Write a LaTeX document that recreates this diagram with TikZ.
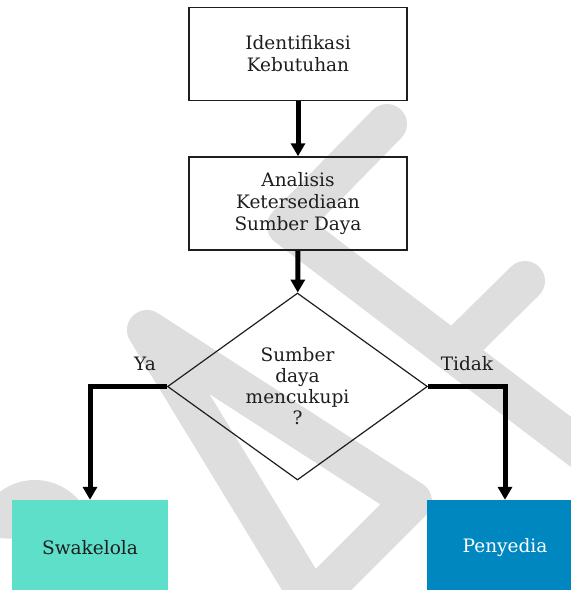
\documentclass[tikz,border=0pt]{standalone}
\usepackage{fontspec}
\setmainfont{DejaVu Serif}
\usetikzlibrary{shapes.geometric,arrows.meta}
\definecolor{tosca}{RGB}{94,223,201}
\definecolor{biru}{RGB}{0,135,192}
\definecolor{tinta}{RGB}{30,30,30}
\begin{document}
\begin{tikzpicture}[x=1pt,y=-1pt,
	box/.style={draw=tinta,line width=1.5pt,minimum width=218pt,minimum height=93pt,align=center,inner sep=0pt,text=tinta,font=\fontsize{18.5}{22}\selectfont},
	tanya/.style={diamond,draw=tinta,line width=1.2pt,minimum width=260pt,minimum height=187pt,aspect=1.39,align=center,inner sep=0pt,text=tinta,font=\fontsize{18.5}{21}\selectfont},
	akhir/.style={minimum width=156pt,minimum height=96pt,inner sep=0pt,font=\fontsize{18.5}{22}\selectfont},
	flow/.style={line width=5pt,-{Triangle[width=14pt,length=13pt]}},
	wmark/.style={line width=40pt,black!13,line cap=round,line join=round}]
	\useasboundingbox (0,0) rectangle (571,590);
	\clip (0,0) rectangle (571,590);
	\draw[wmark] (387,124) -- (287,226) -- (600,464);
	\draw[wmark] (525,281) -- (453,352);
	\draw[wmark] (147,330) -- (412,501) -- (312,601) -- cycle;
	\draw[wmark,line cap=butt] (-3,538) arc[start angle=180,end angle=340,radius=38];
	\node[box] (1) at (298,54) {Identifikasi\\Kebutuhan};
	\node[box] (2) at (298,203.5) {Analisis\\Ketersediaan\\Sumber Daya};
	\node[tanya] (3) at (297.5,386.5) {Sumber\\daya\\mencukupi\\?};
	\node[akhir,fill=tosca,text=tinta] (4) at (90,548) {Swakelola};
	\node[akhir,fill=biru,text=white] (5) at (505,548) {Penyedia};
	\node[text=tinta,font=\fontsize{18.5}{22}\selectfont] (ya) at (145,364) {Ya};
	\node[text=tinta,font=\fontsize{18.5}{22}\selectfont] (tidak) at (467,364) {Tidak};
	\draw[flow] (1) -- (2);
	\draw[flow] (2) -- (3);
	\draw[flow] (3.west) -| (4.north);
	\draw[flow] (3.east) -| (5.north);
\end{tikzpicture}
\end{document}
